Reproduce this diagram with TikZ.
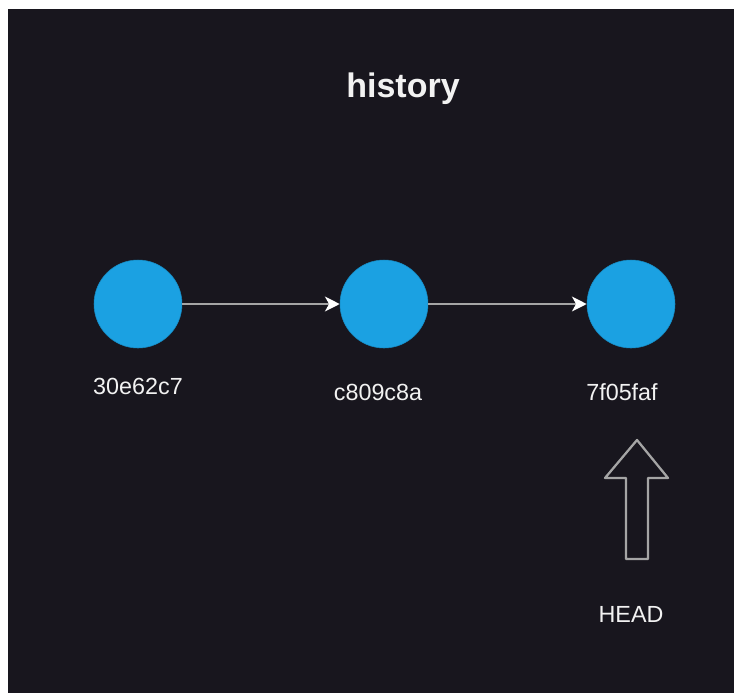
\documentclass[tikz,border=0pt]{standalone}
\usepackage{fontspec}
\setmainfont{Liberation Sans}
\usetikzlibrary{arrows.meta}

\definecolor{bgdark}{RGB}{24,22,30}
\definecolor{commitblue}{RGB}{27,161,226}
\definecolor{edgegray}{RGB}{165,165,165}
\definecolor{labelwhite}{RGB}{242,242,242}

\tikzset{
    commit/.style={circle, fill=commitblue, draw=commitblue!85!black, minimum size=66pt, inner sep=0pt},
    hashlabel/.style={anchor=base, text=labelwhite, font=\fontsize{17.5}{20}\selectfont},
    link/.style={edgegray, line width=2pt, -{Stealth[length=11pt, width=11pt, inset=3pt, color=white]}},
}

\begin{document}
\begin{tikzpicture}[x=0.75pt, y=-0.75pt]
        \useasboundingbox (0, 0) rectangle (734, 693);
        \fill[bgdark] (8, 9) rectangle (734, 693);

        \node[anchor=base, text=labelwhite, font=\bfseries\fontsize{25.5}{30}\selectfont] (title) at (403, 97) {history};

        \node[commit] (c1) at (138, 304) {};
        \node[commit] (c2) at (384, 304) {};
        \node[commit] (c3) at (631, 304) {};

        \draw[link] (c1) -- (c2);
        \draw[link] (c2) -- (c3);

        \node[hashlabel] (h1) at (138, 394) {30e62c7};
        \node[hashlabel] (h2) at (378, 400) {c809c8a};
        \node[hashlabel] (h3) at (622, 400) {7f05faf};

        % hollow pointer for HEAD
        \draw[edgegray, line width=1.7pt, line join=round] (637, 440) -- (668, 478) -- (648, 478) -- (648, 559)
            -- (626, 559) -- (626, 478) -- (605, 478) -- cycle;
        \node[hashlabel] (head) at (631, 622) {HEAD};
\end{tikzpicture}
\end{document}
